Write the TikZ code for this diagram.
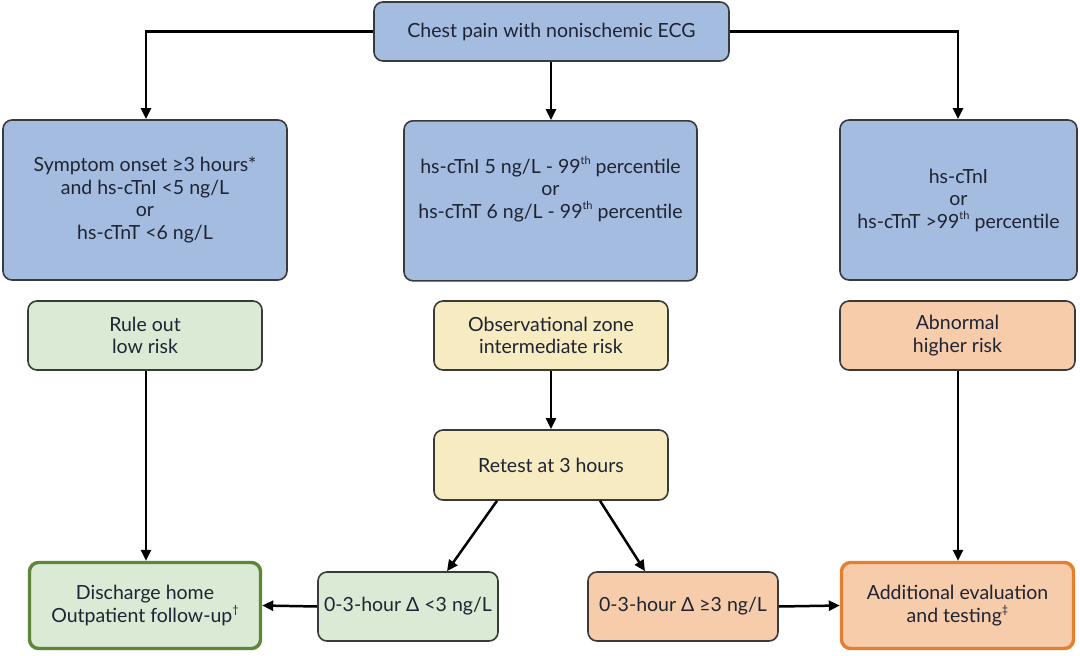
\documentclass[tikz,border=0pt]{standalone}
\usepackage{fontspec}
\setmainfont{Lato}
\usetikzlibrary{arrows.meta}
\definecolor{bluef}{HTML}{A5BCE1}
\definecolor{greenf}{HTML}{DAEAD5}
\definecolor{yellowf}{HTML}{F6EBC1}
\definecolor{orangef}{HTML}{F7CCAB}
\definecolor{greenb}{HTML}{5E8538}
\definecolor{orangeb}{HTML}{E67E2C}
\definecolor{edge}{HTML}{3A3A3A}
\definecolor{txt}{HTML}{1E2433}
\newcommand\supr[1]{\raisebox{0.45em}{\fontsize{11}{11}\selectfont #1}}
\begin{document}
\begin{tikzpicture}[x=1pt,y=-1pt,
  box/.style={draw=edge,line width=1.6pt,rounded corners=9pt,align=center,text=txt,
    font=\fontsize{19.5}{22.5}\selectfont,inner sep=0pt},
  blue/.style={box,fill=bluef},
  grn/.style={box,fill=greenf},
  yel/.style={box,fill=yellowf},
  org/.style={box,fill=orangef},
  arr/.style={-{Triangle[length=11pt,width=10pt]},line width=2.5pt,black}]
\useasboundingbox[fill=white] (0,0) rectangle (1080,656);
\def\bx#1#2#3#4#5#6#7{\node[#2,minimum width=#5-#3,minimum height=#6-#4] (#1) at ({(#3+#5)/2},{(#4+#6)/2}) {#7};}
\bx{top}{blue}{374}{2}{729}{61}{Chest pain with nonischemic ECG}
\bx{b1}{blue}{3}{120}{287}{280}{Symptom onset ≥3 hours*\\and hs-cTnI <5 ng/L\\or\\hs-cTnT <6 ng/L}
\node[blue,minimum width=293,minimum height=160,anchor=north] (b2) at (550.5,120) {};
\node[txt,align=center,font=\fontsize{19.5}{22.5}\selectfont,anchor=north] (b2t) at (550.5,153) {hs-cTnI 5 ng/L - 99\supr{th} percentile\\or\\hs-cTnT 6 ng/L - 99\supr{th} percentile};
\bx{b3}{blue}{840}{120}{1077}{280}{hs-cTnI\\or\\hs-cTnT >99\supr{th} percentile}
\bx{r1}{grn}{28}{301}{262}{370}{Rule out\\low risk}
\bx{r2}{yel}{434}{301}{668}{370}{Observational zone\\intermediate risk}
\bx{r3}{org}{840}{301}{1075}{370}{Abnormal\\higher risk}
\bx{rt}{yel}{434}{430}{668}{500}{Retest at 3 hours}
\node[box,fill=greenf,draw=greenb,line width=3.4pt,minimum width=231,minimum height=86] (dh) at (145,605.5) {Discharge home\\Outpatient follow-up\supr{†}};
\bx{lo}{grn}{318}{572}{498}{641}{0-3-hour Δ <3 ng/L}
\bx{hi}{org}{588}{572}{778}{641}{0-3-hour Δ ≥3 ng/L}
\node[box,fill=orangef,draw=orangeb,line width=3.4pt,minimum width=232,minimum height=86] (ae) at (957.5,605.5) {Additional evaluation\\and testing\supr{‡}};
\draw[arr] (top.west) -| (b1.north-|146,0);
\draw[arr] (top.east) -| (b3.north-|958,0);
\draw[arr] (top.south-|551,0) -- (b2.north-|551,0);
\draw[arr] (r1.south-|146,0) -- (dh.north-|146,0);
\draw[arr] (r2.south-|551,0) -- (rt.north-|551,0);
\draw[arr] (r3.south-|958,0) -- (ae.north-|958,0);
\draw[arr] (rt.south-|497,0) -- ([xshift=-50pt]lo.north-|497,0);
\draw[arr] (rt.south-|600,0) -- ([xshift=45pt]hi.north-|600,0);
\draw[arr] (lo.west) -- (dh.east);
\draw[arr] (hi.east) -- (ae.west);
\end{tikzpicture}
\end{document}
